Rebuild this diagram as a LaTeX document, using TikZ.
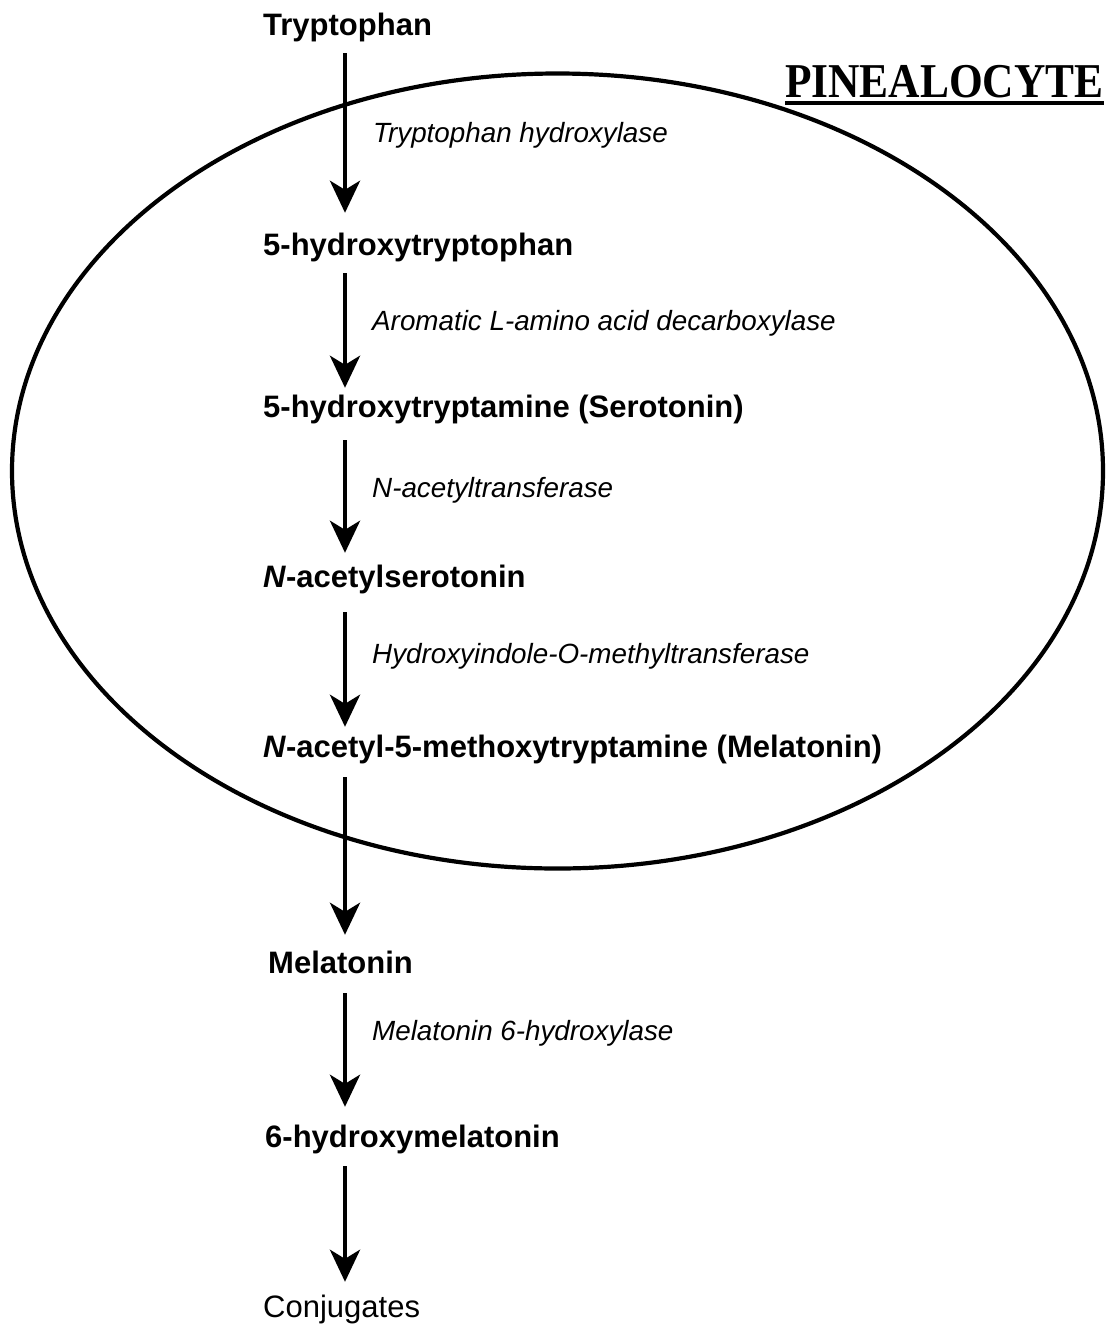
\documentclass[tikz,border=0pt]{standalone}
\usepackage{fontspec}
\setmainfont{Liberation Sans}
\newfontfamily\cellfont{Liberation Serif}
\usetikzlibrary{arrows.meta}

\tikzset{
  compound/.style={anchor=base west, inner sep=0pt, text height=22pt, text depth=6pt,
    font=\fontsize{31}{36}\selectfont\bfseries},
  product/.style={compound, font=\fontsize{31}{36}\selectfont},
  enzyme/.style={anchor=base west, inner sep=0pt, font=\fontsize{27.8}{32}\selectfont\itshape},
  conv/.style={-{Stealth[length=32pt,width=30pt,inset=9pt]}, line width=4.6pt},
}

\begin{document}
\begin{tikzpicture}[x=1pt, y=-1pt]
    \useasboundingbox (0,0) rectangle (1107,1326);

    % cell outline
    \draw[line width=4.2pt] (557.5,471) ellipse [x radius=545.5, y radius=397.5];

    % cell name, underlined
    \node[anchor=base west, inner sep=0pt, font=\cellfont\fontsize{43.4}{50}\selectfont\bfseries]
        (cell) at (785,97) {\scalebox{1}[1.12]{PINEALOCYTE}};
    \draw[line width=4pt] ([yshift=-6pt]cell.base west) -- ([yshift=-6pt]cell.base east);

    % compounds
    \node[compound] (tryp) at (263,35)   {Tryptophan};
    \node[compound] (htp)  at (263,255)  {5-hydroxytryptophan};
    \node[compound] (sero) at (263,417)  {5-hydroxytryptamine (Serotonin)};
    \node[compound] (nas)  at (263,587)  {\textit{N}-acetylserotonin};
    \node[compound] (nam)  at (263,757)  {\textit{N}-acetyl-5-methoxytryptamine (Melatonin)};
    \node[compound] (mel)  at (268,973)  {Melatonin};
    \node[compound] (hmel) at (265,1147) {6-hydroxymelatonin};
    \node[product]  (conj) at (263,1317) {Conjugates};

    % enzymes
    \node[enzyme] (e1) at (373,142)  {Tryptophan hydroxylase};
    \node[enzyme] (e2) at (372,330)  {Aromatic L-amino acid decarboxylase};
    \node[enzyme] (e3) at (372,497)  {N-acetyltransferase};
    \node[enzyme] (e4) at (372,663)  {Hydroxyindole-O-methyltransferase};
    \node[enzyme] (e5) at (372,1040) {Melatonin 6-hydroxylase};

    % reaction arrows
    \coordinate (axis) at (345,0);
    \draw[conv, shorten <=12pt, shorten >=20pt] (tryp.south -| axis) -- (htp.north -| axis);
    \draw[conv, shorten <=12pt, shorten >=7pt]  (htp.south -| axis)  -- (sero.north -| axis);
    \draw[conv, shorten <=17pt, shorten >=12pt] (sero.south -| axis) -- (nas.north -| axis);
    \draw[conv, shorten <=19pt, shorten >=8pt]  (nas.south -| axis)  -- (nam.north -| axis);
    \draw[conv, shorten <=14pt, shorten >=16pt] (nam.south -| axis)  -- (mel.north -| axis);
    \draw[conv, shorten <=14pt, shorten >=18pt] (mel.south -| axis)  -- (hmel.north -| axis);
    \draw[conv, shorten <=13pt, shorten >=13pt] (hmel.south -| axis) -- (conj.north -| axis);
\end{tikzpicture}
\end{document}
